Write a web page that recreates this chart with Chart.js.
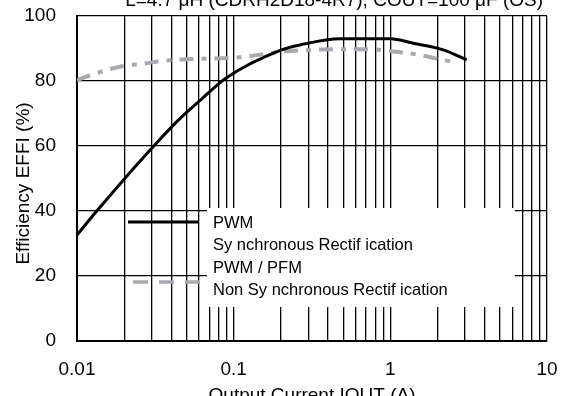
<!DOCTYPE html>
<html><head><meta charset="utf-8">
<script src="https://cdn.jsdelivr.net/npm/chart.js@4.4.1/dist/chart.umd.min.js"></script>
<style>html,body{margin:0;padding:0;background:#fff;overflow:hidden}#wrap{width:565px;height:396px;position:relative}</style>
</head><body><div id="wrap"><canvas id="c" width="565" height="396"></canvas></div>
<script>
// ---- data ----
const pwmCurrent    = [0.01, 0.013, 0.02, 0.03, 0.044, 0.061, 0.09, 0.2, 0.265, 0.48, 1.0, 1.4, 2.2, 3.07];
const pwmEfficiency = [32.6, 39.3,  49.8, 59.3, 67.8,  74.0,  81,   89.5, 91.1, 93,  93,  91.6, 89.5, 86.5];
const pfmCurrent    = [0.01, 0.0137, 0.0188, 0.0272, 0.035, 0.05, 0.11, 0.2, 0.265, 0.5, 0.74, 0.95, 1.33, 1.66, 2.0, 2.6];
const pfmEfficiency = [80.3, 82.6,   84.4,   85.4,   86.2,  86.7, 87.3, 89,  89.4,  89.8, 89.8, 89.3, 88.5, 87.7, 86.8, 85.8];
const xGridValues   = [0.01,0.02,0.03,0.04,0.05,0.06,0.07,0.08,0.09,
                       0.1,0.2,0.3,0.4,0.5,0.6,0.7,0.8,0.9,
                       1,2,3,4,5,6,7,8,9,10];
const xMajorValues  = [0.01, 0.1, 1, 10];
const xMajorLabels  = ['0.01', '0.1', '1', '10'];
const yTickValues   = [0, 20, 40, 60, 80, 100];
const seriesNames   = ['PWM', 'PWM / PFM'];
const seriesNotes   = ['Sy nchronous Rectif ication', 'Non Sy nchronous Rectif ication'];
const chartTitle    = 'L=4.7 μH (CDRH2D18-4R7), COUT=100 μF (OS)';
const xTitle        = 'Output Current IOUT (A)';
const yTitle        = 'Efficiency EFFI (%)';

const FONT = "'Liberation Sans', Arial, sans-serif";
const GRAY = '#a9a9b1';

const toPoints = (xs, ys) => xs.map((x, i) => ({x, y: ys[i]}));

const texts = {
  id: 'texts',
  afterDraw(chart) {
    const ctx = chart.ctx;
    ctx.save();
    ctx.font = '19px ' + FONT;
    ctx.fillStyle = '#000';
    ctx.textAlign = 'right';
    ctx.textBaseline = 'alphabetic';
    ctx.fillText(chartTitle, chart.chartArea.right - 4, 5.5);
    // y axis title
    ctx.translate(29, (chart.chartArea.top + chart.chartArea.bottom) / 2 + 5);
    ctx.rotate(-Math.PI / 2);
    ctx.textAlign = 'center';
    ctx.fillText(yTitle, 0, 0);
    ctx.restore();
  }
};

const boxLegend = {
  id: 'boxLegend',
  afterDatasetsDraw(chart) {
    const ctx = chart.ctx;
    ctx.save();
    ctx.fillStyle = '#fff';
    ctx.fillRect(207, 208, 308, 99);
    ctx.strokeStyle = '#000';
    ctx.lineWidth = 3;
    ctx.beginPath(); ctx.moveTo(128, 222); ctx.lineTo(198, 222); ctx.stroke();
    ctx.strokeStyle = GRAY;
    ctx.lineWidth = 3.5;
    ctx.setLineDash([15, 11]);
    ctx.beginPath(); ctx.moveTo(133, 282); ctx.lineTo(199, 282); ctx.stroke();
    ctx.setLineDash([]);
    ctx.fillStyle = '#000';
    ctx.font = '16.5px ' + FONT;
    ctx.textAlign = 'left';
    ctx.textBaseline = 'alphabetic';
    ctx.fillText(seriesNames[0], 213, 228);
    ctx.fillText(seriesNotes[0], 213, 250);
    ctx.fillText(seriesNames[1], 213, 273);
    ctx.fillText(seriesNotes[1], 213, 295);
    ctx.restore();
  }
};

new Chart(document.getElementById('c'), {
  type: 'line',
  data: {
    datasets: [
      {
        label: seriesNames[0],
        data: toPoints(pwmCurrent, pwmEfficiency),
        borderColor: '#000',
        borderWidth: 3,
        pointRadius: 0,
        cubicInterpolationMode: 'monotone',
        fill: false
      },
      {
        label: seriesNames[1],
        data: toPoints(pfmCurrent, pfmEfficiency),
        borderColor: GRAY,
        borderWidth: 4,
        borderDash: [14, 8, 5, 8],
        pointRadius: 0,
        cubicInterpolationMode: 'monotone',
        fill: false
      }
    ]
  },
  options: {
    responsive: false,
    animation: false,
    devicePixelRatio: 1,
    layout: { padding: { top: 16, right: 18, left: 0, bottom: 0 } },
    plugins: { legend: { display: false }, tooltip: { enabled: false }, title: { display: false } },
    scales: {
      x: {
        type: 'logarithmic',
        min: 0.01, max: 10,
        afterBuildTicks: s => { s.ticks = xGridValues.map(v => ({value: v})); },
        afterFit: s => { s.height = 55; s.paddingLeft = 0; s.paddingRight = 0; },
        ticks: {
          autoSkip: false, maxRotation: 0, minRotation: 0,
          padding: 17,
          color: '#000',
          font: { family: FONT, size: 19 },
          callback: v => { const i = xMajorValues.indexOf(v); return i >= 0 ? xMajorLabels[i] : ''; }
        },
        grid: { color: '#000', lineWidth: 1.3, drawTicks: false },
        border: { color: '#000', width: 2 },
        title: { display: true, text: xTitle, color: '#000', font: { family: FONT, size: 19 }, padding: { top: 0, bottom: -11 } }
      },
      y: {
        min: 0, max: 100,
        afterBuildTicks: s => { s.ticks = yTickValues.map(v => ({value: v})); },
        afterFit: s => { s.width = 77; s.paddingTop = 0; s.paddingBottom = 0; },
        ticks: { padding: 21, color: '#000', font: { family: FONT, size: 19 } },
        grid: { color: '#000', lineWidth: 1.3, drawTicks: false },
        border: { color: '#000', width: 2 },
        title: { display: false, text: yTitle }
      }
    }
  },
  plugins: [boxLegend, texts]
});
</script></body></html>
